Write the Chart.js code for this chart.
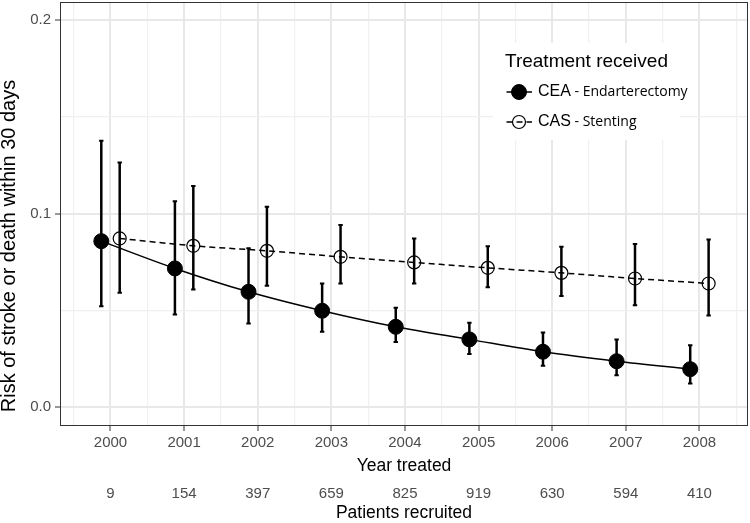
<!DOCTYPE html>
<html>
<head>
<meta charset="utf-8">
<script src="https://cdn.jsdelivr.net/npm/chart.js@4.4.0/dist/chart.umd.min.js"></script>
<style>
  html, body { margin: 0; padding: 0; background: #fff; }
  #wrap { width: 750px; height: 523px; }
</style>
</head>
<body>
<div id="wrap"><canvas id="riskChart" width="750" height="523"></canvas></div>
<script>
// data
const years = [2000, 2001, 2002, 2003, 2004, 2005, 2006, 2007, 2008];
const patients = [9, 154, 397, 659, 825, 919, 630, 594, 410];

const ceaRisk = [0.0857, 0.0716, 0.0595, 0.0497, 0.0414, 0.0349, 0.0285, 0.0236, 0.0195];
const ceaLow  = [0.0521, 0.0478, 0.0431, 0.0388, 0.0336, 0.0273, 0.0212, 0.0164, 0.0121];
const ceaHigh = [0.1376, 0.1064, 0.0820, 0.0638, 0.0512, 0.0435, 0.0385, 0.0349, 0.0319];

const casRisk = [0.0871, 0.0833, 0.0807, 0.0776, 0.0747, 0.0719, 0.0693, 0.0664, 0.0638];
const casLow  = [0.0590, 0.0607, 0.0626, 0.0638, 0.0638, 0.0618, 0.0574, 0.0525, 0.0473];
const casHigh = [0.1264, 0.1142, 0.1035, 0.0940, 0.0871, 0.0831, 0.0828, 0.0842, 0.0866];

const seriesNames = ['CEA', 'CAS'];
const seriesDesc = [' - Endarterectomy', ' - Stenting'];
const legendTitle = 'Treatment received';
const xTitle = 'Year treated';
const x2Title = 'Patients recruited';
const yTitle = 'Risk of stroke or death within 30 days';

// side-by-side dodge, like position_dodge
const dodge = 0.125;

const GREY = '#4d4d4d';
const SANS = '"Liberation Sans", Arial, sans-serif';

function isMajorY(v) { return Math.abs(v * 10 - Math.round(v * 10)) < 1e-6; }

const ceaPoints = years.map((y, i) => ({ x: y - dodge, y: ceaRisk[i], lo: ceaLow[i], hi: ceaHigh[i] }));
const casPoints = years.map((y, i) => ({ x: y + dodge, y: casRisk[i], lo: casLow[i], hi: casHigh[i] }));

// error bars, drawn under the points
const errorBars = {
    id: 'errorBars',
    beforeDatasetsDraw(chart) {
        const { ctx, scales: { x, y } } = chart;
        ctx.save();
        ctx.strokeStyle = '#000';
        chart.data.datasets.forEach(ds => {
            ds.data.forEach(p => {
                const px = x.getPixelForValue(p.x);
                const top = y.getPixelForValue(p.hi);
                const bot = y.getPixelForValue(p.lo);
                ctx.lineWidth = 2.5;
                ctx.beginPath();
                ctx.moveTo(px, top);
                ctx.lineTo(px, bot);
                ctx.stroke();
                ctx.lineWidth = 2;
                ctx.beginPath();
                ctx.moveTo(px - 2.2, top); ctx.lineTo(px + 2.2, top);
                ctx.moveTo(px - 2.2, bot); ctx.lineTo(px + 2.2, bot);
                ctx.stroke();
            });
        });
        ctx.restore();
    }
};

// legend inside the panel, border, second x row and y title
const decorations = {
    id: 'decorations',
    afterDatasetsDraw(chart) {
        const ctx = chart.ctx;
        ctx.save();
        ctx.fillStyle = '#fff';
        ctx.fillRect(493, 43, 187, 97);

        ctx.fillStyle = '#000';
        ctx.textBaseline = 'middle';
        ctx.textAlign = 'left';
        ctx.font = '19px ' + SANS;
        ctx.fillText(legendTitle, 505, 62);

        const rows = [92, 122];
        chart.data.datasets.forEach((ds, i) => {
            const yy = rows[i];
            ctx.strokeStyle = '#000';
            ctx.lineWidth = 1.5;
            ctx.setLineDash(ds.borderDash || []);
            ctx.beginPath();
            ctx.moveTo(506.5, yy);
            ctx.lineTo(532, yy);
            ctx.stroke();
            ctx.setLineDash([]);
            ctx.beginPath();
            ctx.arc(519, yy, ds.pointRadius, 0, Math.PI * 2);
            if (i === 0) { ctx.fillStyle = '#000'; ctx.fill(); }
            ctx.lineWidth = ds.pointBorderWidth;
            ctx.stroke();

            ctx.fillStyle = '#000';
            ctx.font = '16px ' + SANS;
            ctx.fillText(seriesNames[i], 538, yy);
            const w = ctx.measureText(seriesNames[i]).width;
            ctx.font = '14px "Open Sans", sans-serif';
            ctx.fillText(seriesDesc[i], 538 + w, yy);
        });
        ctx.restore();
    },
    afterDraw(chart) {
        const { ctx, chartArea: a, scales: { x } } = chart;
        ctx.save();
        ctx.strokeStyle = '#333';
        ctx.lineWidth = 1;
        ctx.strokeRect(a.left + 0.5, a.top + 0.5, a.right - a.left - 1, a.bottom - a.top - 1);

        ctx.textAlign = 'center';
        ctx.textBaseline = 'middle';
        ctx.fillStyle = GREY;
        ctx.font = '15px ' + SANS;
        years.forEach((yr, i) => {
            ctx.fillText(String(patients[i]), x.getPixelForValue(yr), 494);
        });
        ctx.fillStyle = '#000';
        ctx.font = '17.5px ' + SANS;
        ctx.fillText(x2Title, (a.left + a.right) / 2, 513);

        ctx.translate(9, 246);
        ctx.rotate(-Math.PI / 2);
        ctx.font = '20px ' + SANS;
        ctx.fillText(yTitle, 0, 0);
        ctx.restore();
    }
};

new Chart(document.getElementById('riskChart'), {
    type: 'line',
    data: {
        datasets: [
            {
                label: seriesNames[0] + seriesDesc[0],
                data: ceaPoints,
                borderColor: '#000',
                borderWidth: 1.5,
                pointRadius: 7.5,
                pointBackgroundColor: '#000',
                pointBorderColor: '#000',
                pointBorderWidth: 1,
                cubicInterpolationMode: 'monotone'
            },
            {
                label: seriesNames[1] + seriesDesc[1],
                data: casPoints,
                borderColor: '#000',
                borderWidth: 1.5,
                borderDash: [6, 4],
                pointRadius: 6.5,
                pointBackgroundColor: 'rgba(0,0,0,0)',
                pointBorderColor: '#000',
                pointBorderWidth: 1.2,
                cubicInterpolationMode: 'monotone'
            }
        ]
    },
    options: {
        responsive: false,
        animation: false,
        devicePixelRatio: 1,
        layout: { autoPadding: false, padding: { top: 2, right: 2, left: 0, bottom: 0 } },
        plugins: {
            legend: { display: false },
            tooltip: { enabled: false }
        },
        scales: {
            x: {
                type: 'linear',
                min: 1999.314,
                max: 2008.66,
                afterFit: s => { s.height = 97; s.paddingLeft = 0; s.paddingRight = 0; },
                border: { display: false },
                grid: {
                    color: c => Number.isInteger(c.tick.value) ? '#e8e8e8' : '#f0f0f0',
                    lineWidth: c => Number.isInteger(c.tick.value) ? 2 : 1.2,
                    tickColor: c => Number.isInteger(c.tick.value) ? '#333' : 'rgba(0,0,0,0)',
                    tickWidth: 1,
                    tickLength: 5
                },
                ticks: {
                    stepSize: 0.5,
                    includeBounds: false,
                    autoSkip: false,
                    maxRotation: 0,
                    padding: 3,
                    color: GREY,
                    font: { family: SANS, size: 15 },
                    callback: v => Number.isInteger(v) ? String(v) : ''
                },
                title: {
                    display: true,
                    text: xTitle,
                    color: '#000',
                    font: { family: SANS, size: 17.5 },
                    padding: { top: 0, bottom: 46.5 }
                }
            },
            y: {
                min: -0.0099,
                max: 0.2094,
                afterFit: s => { s.width = 60; s.paddingTop = 0; s.paddingBottom = 0; },
                border: { display: false },
                grid: {
                    color: c => isMajorY(c.tick.value) ? '#e8e8e8' : '#f0f0f0',
                    lineWidth: c => isMajorY(c.tick.value) ? 2 : 1.2,
                    tickColor: c => isMajorY(c.tick.value) ? '#333' : 'rgba(0,0,0,0)',
                    tickWidth: 1,
                    tickLength: 5
                },
                ticks: {
                    stepSize: 0.05,
                    includeBounds: false,
                    padding: 4,
                    color: GREY,
                    font: { family: SANS, size: 15 },
                    callback: v => isMajorY(v) ? v.toFixed(1) : ''
                }
            }
        }
    },
    plugins: [errorBars, decorations]
});
</script>
</body>
</html>
